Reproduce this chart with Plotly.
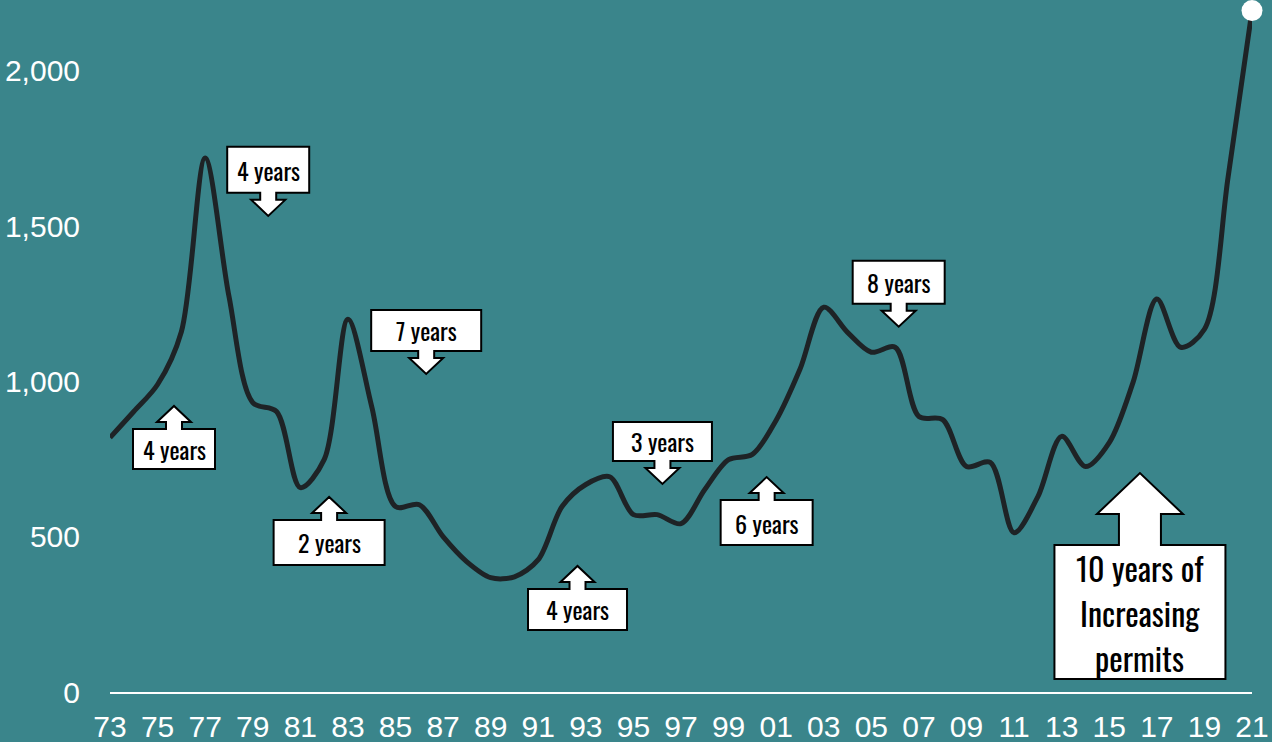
import plotly.graph_objects as go

# Annual permits, 1973-2021
years = list(range(1973, 2022))
permits = [819, 903, 990, 1160, 1719, 1274, 932, 903, 658, 748,
           1200, 919, 597, 603, 500, 419, 368, 371, 426, 597,
           668, 693, 571, 571, 542, 652, 748, 765, 875, 1039,
           1239, 1158, 1094, 1110, 887, 877, 726, 739, 513, 629,
           823, 726, 803, 997, 1265, 1110, 1168, 1660, 2194]

x_tick_years = list(range(1973, 2022, 2))
x_tick_labels = [f"{y % 100:02d}" for y in x_tick_years]
y_tick_values = [0, 500, 1000, 1500, 2000]
y_tick_labels = ["0", "500", "1,000", "1,500", "2,000"]

# Callout labels: text lines, year and value the arrow points at, arrow direction
callout_text = [["4 years"], ["4 years"], ["2 years"], ["7 years"], ["4 years"],
                ["3 years"], ["6 years"], ["8 years"],
                ["10 years of", "Increasing", "permits"]]
callout_year = [1975.69, 1979.65, 1982.21, 1986.29, 1992.65,
                1996.22, 2000.60, 2006.15, 2016.29]
callout_value = [921, 1533, 628, 1024, 406, 670, 692, 1176, 705]
callout_dir = ["up", "down", "up", "down", "up", "down", "up", "down", "up"]

# Callout geometry in pixels: box width, box height, big/small arrow
callout_box = [(82, 40), (82, 46), (111, 45), (110, 41), (99, 41),
               (99, 39), (92, 45), (92, 43), (171, 134)]
callout_big = [False] * 8 + [True]

BG = "#3a858b"
LINE = "#1e2326"
TEXT_FONT = "Oswald, 'Liberation Sans Narrow', 'DejaVu Sans Condensed', 'Roboto Condensed', 'Arial Narrow', sans-serif"

fig = go.Figure()
fig.add_trace(go.Scatter(
    x=years, y=permits, mode="lines",
    line=dict(color=LINE, width=5, shape="spline", smoothing=0.9),
    hoverinfo="skip", showlegend=False,
))
fig.add_trace(go.Scatter(
    x=[years[-1]], y=[permits[-1]], mode="markers",
    marker=dict(color="white", size=21),
    cliponaxis=False, hoverinfo="skip", showlegend=False,
))


def arrow_path(direction, bw, bh, big):
    if big:
        hh, hw, sw, sl = 41, 43, 21, 31
    else:
        hh, hw, sw, sl = 16, 17, 8, 7
    s = 1 if direction == "down" else -1  # pixel y grows upward
    top = hh + sl
    pts = [(-bw / 2, top), (-sw, top), (-sw, hh), (-hw, hh), (0, 0),
           (hw, hh), (sw, hh), (sw, top), (bw / 2, top),
           (bw / 2, top + bh), (-bw / 2, top + bh)]
    d = "M" + "L".join(f"{x:.1f},{s * y:.1f}" for x, y in pts) + "Z"
    return d, s * (top + bh / 2)


for lines, cx, cy, dr, (bw, bh), big in zip(callout_text, callout_year, callout_value,
                                           callout_dir, callout_box, callout_big):
    path, text_dy = arrow_path(dr, bw, bh, big)
    fig.add_shape(type="path", path=path, xref="x", yref="y",
                  xsizemode="pixel", ysizemode="pixel", xanchor=cx, yanchor=cy,
                  fillcolor="white", line=dict(color="black", width=2), layer="above")
    step = 45
    n = len(lines)
    for i, txt in enumerate(lines):
        dy = text_dy + ((n - 1) / 2 - i) * step
        fig.add_annotation(x=cx, y=cy, xref="x", yref="y", text=txt, showarrow=False,
                           xanchor="center", yanchor="middle", yshift=dy, borderpad=0,
                           font=dict(family=TEXT_FONT, size=32 if big else 24,
                                     color="black"))

fig.update_layout(
    width=1272, height=742,
    margin=dict(l=110, r=20, t=0, b=50),
    paper_bgcolor=BG, plot_bgcolor=BG,
    font=dict(family="'Liberation Sans', Arial, sans-serif", color="white"),
    xaxis=dict(range=[1973, 2021], tickvals=x_tick_years, ticktext=x_tick_labels,
               showgrid=False, zeroline=False, showline=True, linecolor="white",
               linewidth=2, ticks="", ticklabelstandoff=7,
               tickfont=dict(size=30, color="white")),
    yaxis=dict(range=[0, 2228], tickvals=y_tick_values, ticktext=y_tick_labels,
               showgrid=False, zeroline=False, showline=False, ticks="",
               ticklabelstandoff=29, tickfont=dict(size=30, color="white")),
)

fig.write_html("out.html")
